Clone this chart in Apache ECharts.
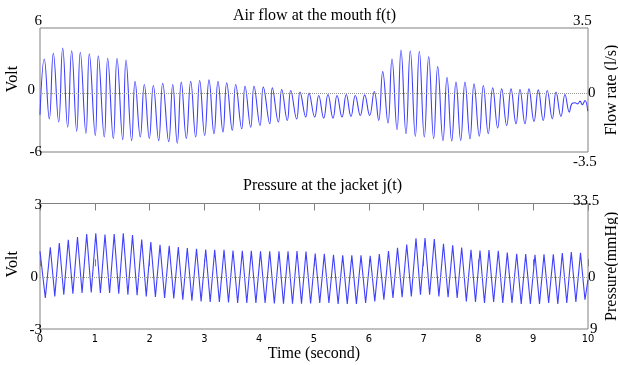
<!DOCTYPE html>
<html>
<head>
<meta charset="utf-8">
<script src="https://cdn.jsdelivr.net/npm/echarts@6/dist/echarts.min.js"></script>
<style>html,body{margin:0;padding:0;background:#fff}#c{width:618px;height:365px}</style>
</head>
<body>
<div id="c"></div>
<script>
// ---- Top panel: Air flow at the mouth f(t) (Volt), extremes ----
const flowT = [
  0.000, 0.078, 0.170, 0.243, 0.341, 0.414, 0.505, 0.578, 0.670, 0.735,
  0.839, 0.900, 1.009, 1.064, 1.173, 1.235, 1.338, 1.405, 1.509, 1.569,
  1.673, 1.734, 1.830, 1.903, 1.995, 2.068, 2.166, 2.239, 2.349, 2.422,
  2.505, 2.578, 2.670, 2.750, 2.841, 2.914, 3.005, 3.084, 3.175, 3.248,
  3.339, 3.407, 3.509, 3.571, 3.681, 3.741, 3.845, 3.905, 4.015, 4.075,
  4.192, 4.239, 4.349, 4.411, 4.513, 4.575, 4.684, 4.745, 4.849, 4.909,
  5.013, 5.086, 5.177, 5.255, 5.347, 5.420, 5.511, 5.589, 5.675, 5.754,
  5.845, 5.925, 6.016, 6.100, 6.181, 6.254, 6.350, 6.423, 6.515, 6.588,
  6.679, 6.757, 6.849, 6.922, 7.013, 7.093, 7.184, 7.257, 7.354, 7.427,
  7.513, 7.591, 7.677, 7.755, 7.847, 7.920, 8.016, 8.090, 8.180, 8.261,
  8.352, 8.425, 8.516, 8.595, 8.686, 8.759, 8.850, 8.923, 9.015, 9.093,
  9.184, 9.257, 9.349, 9.416, 9.507, 9.580, 9.659, 9.703, 9.763, 9.812,
  9.854, 9.896, 9.945, 9.995
];
const flowV = [
  -2.4, 3.0, -2.8, 3.55, -3.1, 4.07, -3.6, 3.8, -4.0, 3.65,
  -4.2, 3.5, -4.4, 3.3, -4.55, 3.07, -4.7, 3.07, -4.8, 2.9,
  -4.9, 0.85, -4.55, 0.53, -4.7, 0.43, -4.9, 0.66, -5.0, 0.53,
  -5.15, 0.76, -4.7, 0.85, -4.55, 0.92, -4.4, 0.98, -4.23, 0.85,
  -4.07, 0.69, -3.9, 0.53, -3.75, 0.37, -3.6, 0.37, -3.43, 0.28,
  -3.27, 0.21, -3.1, 0.05, -2.95, -0.05, -2.8, -0.21, -2.62, -0.3,
  -2.62, -0.53, -2.72, -0.44, -2.72, -0.53, -2.62, -0.44, -2.56, -0.53,
  -2.47, -0.47, -2.47, -0.15, -2.95, 1.78, -3.2, 3.0, -3.85, 3.87,
  -4.23, 3.8, -4.5, 3.75, -4.55, 3.23, -4.7, 2.26, -4.9, 1.24,
  -4.94, 0.76, -4.88, 0.76, -4.72, 0.59, -4.46, 0.43, -4.23, 0.21,
  -3.68, 0.11, -3.43, 0.11, -3.27, 0.05, -3.27, 0.11, -3.04, 0.01,
  -2.95, -0.05, -2.79, -0.21, -2.56, -0.44, -2.14, -1.34, -1.24, -1.34,
  -1.08, -1.43, -1.02, -2.04
];
const flowZero = -0.3;

// ---- Bottom panel: Pressure at the jacket j(t) (Volt) ----
const jacketT = [
  0.000, 0.097, 0.188, 0.270, 0.352, 0.434, 0.516, 0.600, 0.684, 0.768,
  0.852, 0.935, 1.018, 1.102, 1.186, 1.270, 1.354, 1.437, 1.520, 1.604,
  1.688, 1.772, 1.856, 1.939, 2.022, 2.106, 2.190, 2.274, 2.358, 2.441,
  2.524, 2.606, 2.688, 2.772, 2.856, 2.940, 3.024, 3.106, 3.188, 3.273,
  3.358, 3.440, 3.522, 3.607, 3.692, 3.774, 3.856, 3.940, 4.024, 4.108,
  4.192, 4.276, 4.361, 4.443, 4.526, 4.608, 4.690, 4.772, 4.854, 4.938,
  5.022, 5.105, 5.188, 5.272, 5.356, 5.440, 5.524, 5.607, 5.690, 5.774,
  5.858, 5.942, 6.026, 6.109, 6.192, 6.275, 6.359, 6.441, 6.524, 6.608,
  6.692, 6.776, 6.861, 6.943, 7.026, 7.110, 7.195, 7.279, 7.363, 7.447,
  7.531, 7.613, 7.695, 7.780, 7.865, 7.947, 8.029, 8.111, 8.193, 8.278,
  8.363, 8.445, 8.527, 8.613, 8.699, 8.781, 8.863, 8.948, 9.033, 9.115,
  9.197, 9.282, 9.367, 9.449, 9.531, 9.613, 9.695, 9.779, 9.863, 9.945,
  10.000
];
const jacketV = [
  0.71, -1.52, 0.91, -1.44, 1.11, -1.36, 1.27, -1.31, 1.40, -1.28,
  1.54, -1.25, 1.57, -1.28, 1.52, -1.28, 1.54, -1.31, 1.57, -1.36,
  1.49, -1.39, 1.28, -1.44, 1.16, -1.47, 1.03, -1.52, 0.98, -1.54,
  0.92, -1.60, 0.87, -1.65, 0.84, -1.68, 0.80, -1.71, 0.79, -1.71,
  0.79, -1.73, 0.75, -1.76, 0.74, -1.76, 0.74, -1.76, 0.71, -1.76,
  0.71, -1.78, 0.71, -1.79, 0.71, -1.79, 0.73, -1.79, 0.70, -1.78,
  0.61, -1.76, 0.59, -1.76, 0.55, -1.80, 0.52, -1.80, 0.52, -1.80,
  0.52, -1.76, 0.50, -1.68, 0.58, -1.60, 0.73, -1.52, 0.88, -1.48,
  1.04, -1.44, 1.34, -1.36, 1.35, -1.36, 1.30, -1.44, 1.07, -1.48,
  1.00, -1.52, 0.90, -1.68, 0.79, -1.71, 0.75, -1.76, 0.78, -1.71,
  0.74, -1.76, 0.65, -1.76, 0.60, -1.80, 0.58, -1.80, 0.55, -1.80,
  0.57, -1.76, 0.57, -1.80, 0.63, -1.76, 0.68, -1.71, 0.64, -1.60,
  -0.64
];
const jacketZero = -0.51;

const timeTicks = [0, 1, 2, 3, 4, 5, 6, 7, 8, 9, 10];

const SERIF = "'Liberation Serif', 'DejaVu Serif', 'Times New Roman', serif";
const NARROW = "'Liberation Sans Narrow', 'DejaVu Sans Condensed', 'Arial Narrow', sans-serif";
const GRAY = '#808080';
const LINE = '#4040ff';

function lbl(extra) {
  return Object.assign({ fontFamily: SERIF, fontSize: 15, color: '#000' }, extra || {});
}

const chart = echarts.init(document.getElementById('c'), null, { renderer: 'canvas' });
chart.setOption({
  animation: false,
  backgroundColor: '#fff',
  title: [
    { text: 'Air flow at the mouth f(t)', left: 233, top: 8, padding: 0,
      textStyle: { fontFamily: SERIF, fontSize: 16, fontWeight: 'normal', color: '#000' } },
    { text: 'Pressure at the jacket j(t)', left: 243, top: 178, padding: 0,
      textStyle: { fontFamily: SERIF, fontSize: 16, fontWeight: 'normal', color: '#000' } }
  ],
  grid: [
    { left: 40, top: 28, width: 548, height: 124, show: true, borderColor: GRAY, borderWidth: 1,
      containLabel: false, outerBoundsMode: 'none' },
    { left: 40, top: 203.5, width: 548, height: 125.5, show: true, borderColor: GRAY, borderWidth: 1,
      containLabel: false, outerBoundsMode: 'none' }
  ],
  xAxis: [
    { gridIndex: 0, type: 'value', min: 0, max: 10, interval: 1,
      axisLine: { show: false }, axisTick: { show: false }, axisLabel: { show: false }, splitLine: { show: false } },
    { gridIndex: 1, type: 'value', min: timeTicks[0], max: timeTicks[timeTicks.length - 1], interval: 1, position: 'bottom',
      axisLine: { show: false },
      axisTick: { show: true, inside: true, length: 7, lineStyle: { color: GRAY } },
      axisLabel: { margin: 5, fontFamily: NARROW, fontSize: 11, color: '#000' },
      splitLine: { show: false },
      name: 'Time (second)', nameLocation: 'middle', nameGap: 17, nameMoveOverlap: false,
      nameTextStyle: { fontFamily: SERIF, fontSize: 16, color: '#000' } },
    { gridIndex: 1, type: 'value', min: 0, max: 10, interval: 1, position: 'top',
      axisLine: { show: false },
      axisTick: { show: true, inside: true, length: 7, lineStyle: { color: GRAY } },
      axisLabel: { show: false }, splitLine: { show: false } }
  ],
  yAxis: [
    { gridIndex: 0, type: 'value', min: -6, max: 6, interval: 6, position: 'left',
      axisLine: { show: false }, axisTick: { show: false }, splitLine: { show: false },
      axisLabel: { margin: -2, color: '#000', fontFamily: SERIF, fontSize: 15,
        formatter: v => v === 6 ? '{t|6}' : (v === 0 ? '{z|0}' : '{b|-6}'),
        rich: { t: lbl({ padding: [0, 0, 13, 0] }), z: lbl({ padding: [0, 7, 0, 0] }), b: lbl() } },
      name: 'Volt', nameLocation: 'middle', nameGap: 19, nameRotate: 90, nameMoveOverlap: false,
      nameTextStyle: { fontFamily: SERIF, fontSize: 16, color: '#000', padding: [0, 0, 0, 22] } },
    { gridIndex: 0, type: 'value', min: -3.5, max: 3.5, interval: 3.5, position: 'right',
      axisLine: { show: false }, axisTick: { show: false }, splitLine: { show: false },
      axisLabel: { margin: -15, color: '#000', fontFamily: SERIF, fontSize: 15,
        formatter: v => v === 3.5 ? '{t|3.5}' : (v === -3.5 ? '{b|-3.5}' : ''),
        rich: { t: lbl({ padding: [0, 0, 13, 0] }), b: lbl({ padding: [21, 0, 0, 0] }) } },
      name: 'Flow rate (l/s)', nameLocation: 'middle', nameGap: 16, nameRotate: 90, nameMoveOverlap: false,
      nameTextStyle: { fontFamily: SERIF, fontSize: 16, color: '#000' } },
    { gridIndex: 1, type: 'value', min: -3, max: 3, interval: 3, position: 'left',
      axisLine: { show: false }, axisTick: { show: false }, splitLine: { show: false },
      axisLabel: { margin: -2, color: '#000', fontFamily: SERIF, fontSize: 15,
        formatter: v => v === 3 ? '{t|3}' : (v === -3 ? '{b|-3}' : ''),
        rich: { t: lbl({ padding: [3, 0, 0, 0] }), b: lbl({ padding: [2, 0, 0, 0] }) } },
      name: 'Volt', nameLocation: 'middle', nameGap: 19, nameRotate: 90, nameMoveOverlap: false,
      nameTextStyle: { fontFamily: SERIF, fontSize: 16, color: '#000', padding: [0, 0, 0, 4] } },
    { gridIndex: 1, type: 'value', min: 9, max: 33.5, interval: 24.5, position: 'right',
      axisLine: { show: false }, axisTick: { show: false }, splitLine: { show: false },
      axisLabel: { margin: -15, color: '#000', fontFamily: SERIF, fontSize: 15,
        formatter: v => v === 33.5 ? '{t|33.5}' : '{n|9}',
        rich: { t: lbl({ padding: [0, 0, 4, 0] }), n: lbl({ padding: [0, 0, 0, 17] }) } },
      name: 'Pressure(mmHg)', nameLocation: 'middle', nameGap: 16, nameRotate: 90, nameMoveOverlap: false,
      nameTextStyle: { fontFamily: SERIF, fontSize: 16, color: '#000' } }
  ],
  series: [
    { type: 'line', xAxisIndex: 0, yAxisIndex: 0, showSymbol: false, smooth: 0.45,
      data: flowT.map((t, i) => [t, flowV[i]]),
      lineStyle: { color: LINE, width: 1.1 },
      markLine: { silent: true, symbol: 'none', animation: false,
        lineStyle: { type: 'dotted', color: '#999', width: 1 },
        data: [{ yAxis: flowZero, label: { show: true, position: 'end', formatter: '0', distance: 0,
          fontFamily: SERIF, fontSize: 15, color: '#000' } }] } },
    { type: 'line', xAxisIndex: 1, yAxisIndex: 2, showSymbol: false,
      data: jacketT.map((t, i) => [t, jacketV[i]]),
      lineStyle: { color: LINE, width: 1.1 },
      markLine: { silent: true, symbol: 'none', animation: false,
        lineStyle: { type: 'dotted', color: '#999', width: 1 },
        data: [
          { yAxis: jacketZero, label: { show: true, position: 'start', formatter: '0', distance: 2,
            fontFamily: SERIF, fontSize: 15, color: '#000' } },
          { yAxis: jacketZero, label: { show: true, position: 'end', formatter: '0', distance: 0,
            fontFamily: SERIF, fontSize: 15, color: '#000' } }
        ] } }
  ]
});
</script>
</body>
</html>
